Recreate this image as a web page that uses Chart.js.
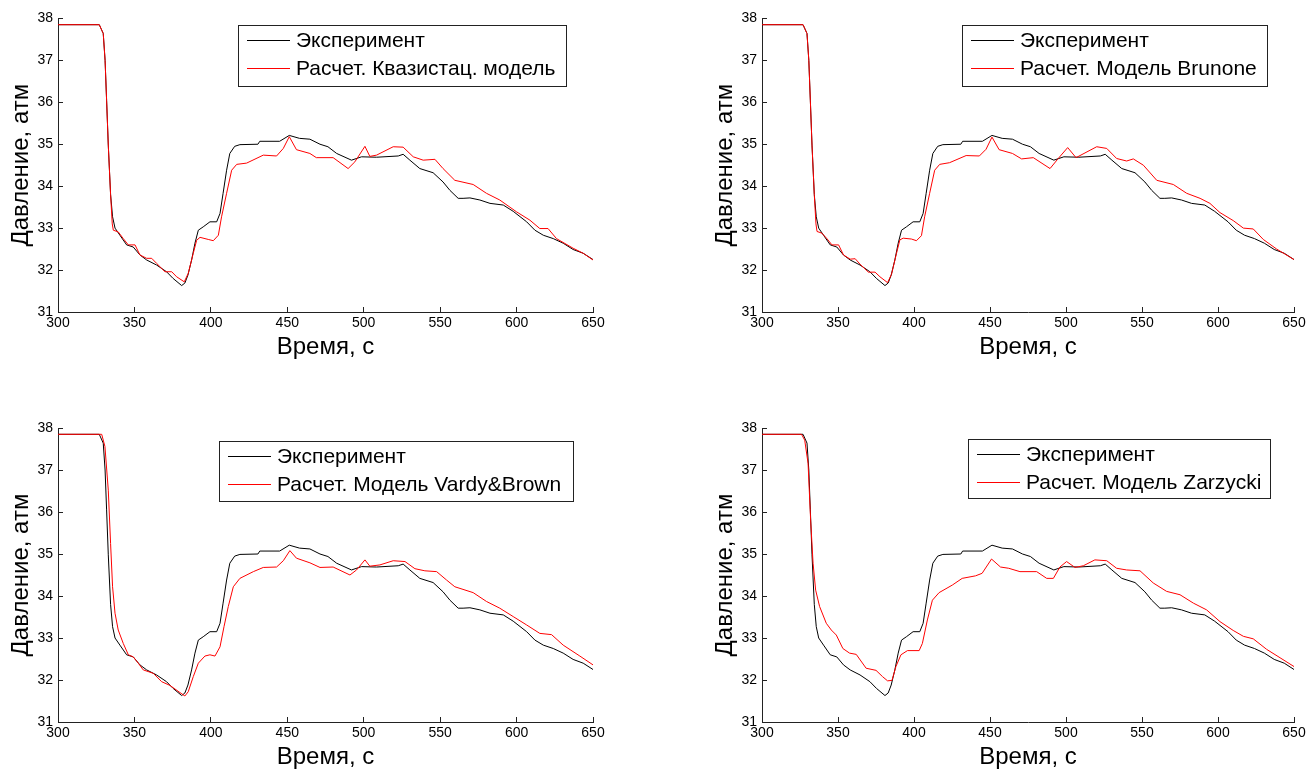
<!DOCTYPE html>
<html lang="ru">
<head>
<meta charset="UTF-8">
<title>Давление</title>
<script src="https://cdn.jsdelivr.net/npm/chart.js@4.4.1/dist/chart.umd.min.js"></script>
<style>
  body { margin: 0; background: #fff; }
  #wrap { position: relative; width: 1316px; height: 770px; }
  canvas { position: absolute; }
</style>
</head>
<body>
<div id="wrap">
  <canvas id="c1" width="658" height="385" style="left:0;top:0"></canvas>
  <canvas id="c2" width="658" height="385" style="left:658px;top:0"></canvas>
  <canvas id="c3" width="658" height="385" style="left:0;top:385px"></canvas>
  <canvas id="c4" width="658" height="385" style="left:658px;top:385px"></canvas>
</div>
<script>
// эксперимент (одинаковый на всех графиках)
const expT = [300, 327, 329.6, 330.8, 331.8, 332.9, 334.4, 335.7, 337.3, 340.5, 344.9, 349.2, 353.6, 358, 364.5, 371, 375.3, 380.9, 383, 385, 387.4, 389.6, 391.8, 395, 399.4, 403.8, 406, 408, 410.3, 412.4, 415.6, 419, 430.8, 432, 445, 451.3, 458, 464.8, 471.4, 476.6, 482.3, 492, 498.6, 508.4, 522.6, 525.8, 530.2, 536.7, 545.4, 551.9, 556.4, 561.8, 565, 569.5, 576, 582.6, 591.3, 597.8, 606.6, 612, 617.5, 624, 630.5, 637, 643.6, 650];
const expP = [37.85, 37.85, 37.64, 37.0, 36.05, 34.98, 33.8, 33.27, 33.0, 32.83, 32.6, 32.55, 32.36, 32.24, 32.12, 31.96, 31.8, 31.63, 31.69, 31.88, 32.24, 32.64, 32.95, 33.03, 33.15, 33.15, 33.35, 33.83, 34.38, 34.78, 34.95, 34.99, 35.0, 35.07, 35.07, 35.21, 35.14, 35.12, 35.0, 34.94, 34.78, 34.62, 34.7, 34.69, 34.72, 34.76, 34.62, 34.42, 34.32, 34.1, 33.9, 33.71, 33.71, 33.72, 33.67, 33.59, 33.55, 33.4, 33.15, 32.95, 32.83, 32.75, 32.64, 32.49, 32.4, 32.25];

// квазистационарная модель
const quasiT = [300, 327, 329.6, 330.8, 331.8, 332.9, 334.4, 335.5, 336.2, 339.4, 342.7, 346, 350.4, 353.6, 358, 361.3, 364.5, 370, 374.4, 377.6, 382.6, 385.2, 388.5, 390.7, 392.9, 398.3, 401.6, 404.9, 407, 410.3, 413.6, 416.9, 423.4, 434.3, 443, 447.4, 451.3, 456, 464.8, 469, 480, 489.8, 494.2, 500.8, 504, 508.4, 519.3, 525.8, 532.4, 538.9, 546.6, 551.9, 559.6, 571.6, 580.3, 589, 599.9, 608.7, 615.2, 620.6, 626.1, 637, 643.6, 650];
const quasiP = [37.85, 37.85, 37.64, 37.0, 36.05, 34.98, 33.8, 33.1, 32.95, 32.91, 32.75, 32.6, 32.6, 32.36, 32.28, 32.28, 32.16, 31.96, 31.96, 31.84, 31.72, 31.92, 32.4, 32.71, 32.78, 32.73, 32.7, 32.83, 33.27, 33.83, 34.38, 34.52, 34.55, 34.74, 34.72, 34.9, 35.18, 34.87, 34.78, 34.68, 34.68, 34.42, 34.58, 34.95, 34.71, 34.74, 34.94, 34.93, 34.7, 34.62, 34.64, 34.42, 34.14, 34.04, 33.83, 33.67, 33.39, 33.19, 32.99, 32.99, 32.75, 32.52, 32.4, 32.24];

// модель Brunone
const brunT = [300, 327, 329.6, 330.8, 331.8, 332.9, 334.4, 335.5, 336.2, 339.4, 342.7, 346, 350.4, 353.6, 358, 361.3, 364.5, 370, 374.4, 377.6, 382.6, 385.2, 388.5, 390.7, 392.9, 398.3, 401.6, 404.9, 407, 410.3, 413.6, 416.9, 423.4, 434.3, 443, 447.4, 451.3, 456, 464.8, 470.8, 478.5, 489.5, 494.9, 501.1, 506.6, 520.2, 526.8, 533.3, 539.9, 544.3, 550.9, 559.7, 570.6, 579.4, 588.2, 594.7, 601.3, 610, 616.7, 623.2, 629.8, 638.6, 650];
const brunP = [37.85, 37.85, 37.64, 37.0, 36.05, 34.98, 33.8, 33.1, 32.92, 32.88, 32.75, 32.6, 32.6, 32.36, 32.26, 32.27, 32.14, 31.95, 31.95, 31.84, 31.7, 31.9, 32.4, 32.72, 32.76, 32.74, 32.7, 32.82, 33.27, 33.83, 34.38, 34.52, 34.56, 34.73, 34.72, 34.88, 35.17, 34.87, 34.78, 34.65, 34.68, 34.42, 34.66, 34.92, 34.68, 34.94, 34.9, 34.66, 34.6, 34.65, 34.5, 34.14, 34.04, 33.83, 33.71, 33.59, 33.37, 33.18, 33.0, 32.98, 32.73, 32.5, 32.25];

// модель Vardy&Brown
const vbT = [300, 328.6, 330.7, 332.9, 334.4, 335.7, 337.3, 339.4, 342.7, 346, 349.2, 352.5, 355.8, 362.3, 367.8, 373.3, 379.8, 383, 385.2, 388.5, 391.8, 396.1, 399.4, 402.7, 406, 408.6, 411.4, 414.7, 419, 427.8, 434.3, 443, 447.4, 451.7, 456, 464.8, 471.4, 480, 491, 495.3, 500.8, 504, 510.6, 519.3, 527, 533.5, 540, 547.7, 554.2, 559.6, 571.6, 580.3, 589, 597.8, 606.6, 615.2, 622.9, 630.5, 641.4, 650];
const vbP = [37.85, 37.85, 37.56, 36.52, 35.25, 34.22, 33.59, 33.19, 32.87, 32.6, 32.55, 32.4, 32.24, 32.16, 31.96, 31.87, 31.7, 31.62, 31.72, 32.08, 32.4, 32.57, 32.6, 32.57, 32.79, 33.27, 33.75, 34.22, 34.42, 34.58, 34.68, 34.69, 34.84, 35.08, 34.9, 34.79, 34.68, 34.69, 34.5, 34.62, 34.86, 34.71, 34.74, 34.84, 34.82, 34.65, 34.6, 34.58, 34.38, 34.22, 34.08, 33.87, 33.71, 33.51, 33.31, 33.11, 33.08, 32.83, 32.57, 32.36];

// модель Zarzycki
const zarT = [300, 326, 328.1, 330.3, 332, 333.6, 335.3, 337.9, 342.3, 345.6, 348.9, 353.2, 357.6, 362, 368.5, 375, 379.3, 382.6, 385.5, 388.1, 391.4, 395.7, 403.4, 405.5, 408.8, 412.1, 416.5, 425.2, 431.7, 440.5, 444.8, 451, 456.9, 462.3, 469.7, 480.7, 487.3, 491.7, 496, 500.4, 505.9, 511.4, 519, 526.8, 533.3, 539.9, 548.7, 557.4, 566.2, 575, 583.8, 592.5, 601.3, 610, 616.7, 623.2, 632, 640.8, 650];
const zarP = [37.85, 37.85, 37.71, 37.16, 35.81, 34.78, 34.14, 33.75, 33.35, 33.19, 33.07, 32.75, 32.64, 32.61, 32.28, 32.23, 32.08, 31.98, 31.99, 32.32, 32.6, 32.7, 32.7, 32.87, 33.43, 33.9, 34.08, 34.26, 34.42, 34.48, 34.54, 34.88, 34.69, 34.66, 34.58, 34.58, 34.42, 34.42, 34.69, 34.82, 34.68, 34.72, 34.86, 34.84, 34.66, 34.62, 34.6, 34.31, 34.11, 34.03, 33.83, 33.67, 33.39, 33.18, 33.04, 32.98, 32.73, 32.53, 32.32];

const expLabel = 'Эксперимент';
const xTitle = 'Время, с';
const yTitle = 'Давление, атм';

const tickFont = { family: "'Liberation Sans Narrow', 'Liberation Sans', Arial, sans-serif", size: 14 };
const titleFont = { family: "'Liberation Sans', Arial, sans-serif", size: 24, lineHeight: 1 };
const legendFont = "21px 'Liberation Sans', Arial, sans-serif";

// легенда в рамке, как в MATLAB
const boxLegend = {
    id: 'boxLegend',
    afterDraw(chart, args, opts) {
        const ctx = chart.ctx;
        ctx.save();
        ctx.fillStyle = '#fff';
        ctx.fillRect(opts.x, opts.y, opts.w, opts.h);
        ctx.strokeStyle = '#222';
        ctx.lineWidth = 1;
        ctx.strokeRect(opts.x + 0.5, opts.y + 0.5, opts.w, opts.h);
        ctx.font = legendFont;
        ctx.textBaseline = 'middle';
        chart.data.datasets.forEach((ds, i) => {
            const y = Math.round(opts.y + 15 + i * 28) + 0.5;
            ctx.strokeStyle = ds.borderColor;
            ctx.beginPath();
            ctx.moveTo(opts.x + 9, y);
            ctx.lineTo(opts.x + 52, y);
            ctx.stroke();
            ctx.fillStyle = '#000';
            ctx.fillText(ds.label, opts.x + 58, y + 1);
        });
        ctx.restore();
    }
};

function pts(t, p) {
    return t.map((v, i) => ({ x: v, y: p[i] }));
}

function makeChart(id, redLabel, redT, redP, pad, legendBox) {
    new Chart(document.getElementById(id), {
        type: 'line',
        data: {
            datasets: [
                { label: expLabel, data: pts(expT, expP), borderColor: '#000', borderWidth: 1, pointRadius: 0, tension: 0, order: 1 },
                { label: redLabel, data: pts(redT, redP), borderColor: '#ff0000', borderWidth: 1, pointRadius: 0, tension: 0, order: 0 }
            ]
        },
        options: {
            responsive: false,
            animation: false,
            layout: { padding: pad },
            plugins: { legend: { display: false }, tooltip: { enabled: false }, boxLegend: legendBox },
            scales: {
                x: {
                    type: 'linear', min: 300, max: 650,
                    ticks: { stepSize: 50, padding: 8, color: '#000', font: tickFont, maxRotation: 0, autoSkip: false },
                    grid: { drawOnChartArea: false, tickLength: -5, color: '#222' },
                    border: { color: '#222' },
                    title: { display: true, text: xTitle, color: '#000', font: titleFont, padding: { top: 0, bottom: 0 } },
                    afterFit: s => { s.height = 47; }
                },
                y: {
                    type: 'linear', min: 31, max: 38,
                    ticks: { stepSize: 1, padding: 10, color: '#000', font: tickFont },
                    grid: { drawOnChartArea: false, tickLength: -5, color: '#222' },
                    border: { color: '#222' },
                    title: { display: true, text: yTitle, color: '#000', font: titleFont, padding: { top: 9, bottom: 0 } },
                    afterFit: s => { s.width = 58; }
                }
            }
        },
        plugins: [boxLegend]
    });
}

makeChart('c1', 'Расчет. Квазистац. модель', quasiT, quasiP,
    { top: 18, left: 0, right: 65, bottom: 26 }, { x: 238, y: 25, w: 328, h: 61 });
makeChart('c2', 'Расчет. Модель Brunone', brunT, brunP,
    { top: 18, left: 46, right: 22, bottom: 26 }, { x: 304, y: 25, w: 305, h: 61 });
makeChart('c3', 'Расчет. Модель Vardy&Brown', vbT, vbP,
    { top: 43, left: 0, right: 65, bottom: 1 }, { x: 219, y: 56, w: 354, h: 60 });
makeChart('c4', 'Расчет. Модель Zarzycki', zarT, zarP,
    { top: 43, left: 46, right: 22, bottom: 1 }, { x: 310, y: 54, w: 302, h: 59 });
</script>
</body>
</html>
